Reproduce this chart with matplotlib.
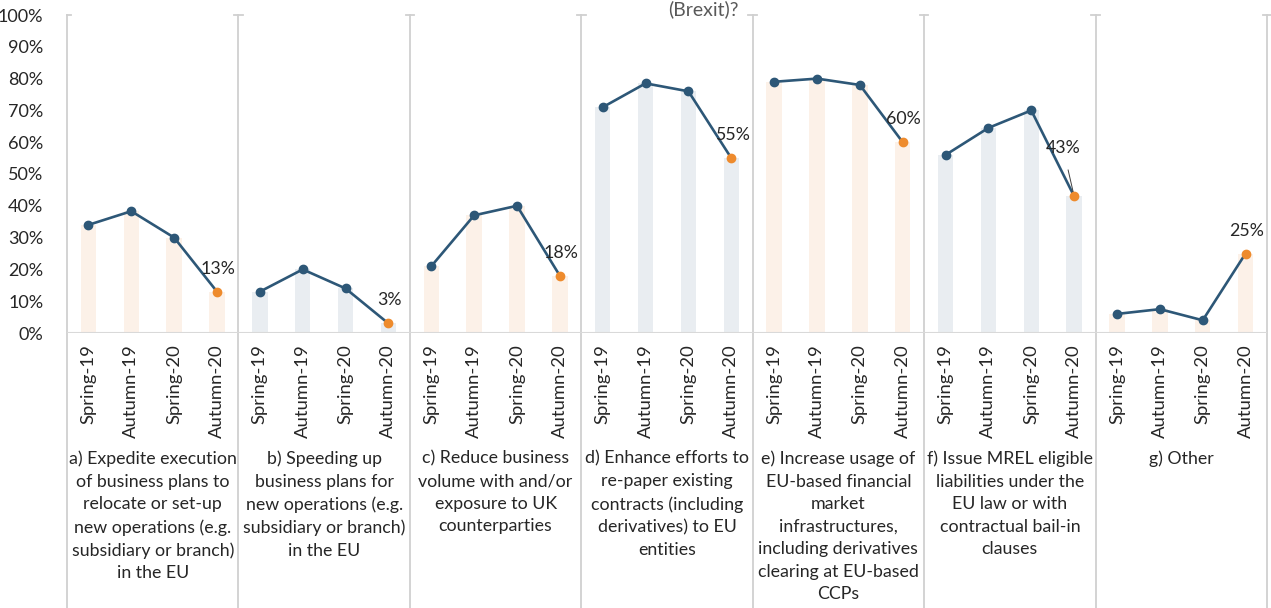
import matplotlib
matplotlib.use("Agg")
import matplotlib.pyplot as plt
import numpy as np

periods = ["Spring-19", "Autumn-19", "Spring-20", "Autumn-20"]
groups = [
    "a) Expedite execution\nof business plans to\nrelocate or set-up\nnew operations (e.g.\nsubsidiary or branch)\nin the EU",
    "b) Speeding up\nbusiness plans for\nnew operations (e.g.\nsubsidiary or branch)\nin the EU",
    "c) Reduce business\nvolume with and/or\nexposure to UK\ncounterparties",
    "d) Enhance efforts to\nre-paper existing\ncontracts (including\nderivatives) to EU\nentities",
    "e) Increase usage of\nEU-based financial\nmarket\ninfrastructures,\nincluding derivatives\nclearing at EU-based\nCCPs",
    "f) Issue MREL eligible\nliabilities under the\nEU law or with\ncontractual bail-in\nclauses",
    "g) Other",
]
vals_a = [34, 38.3, 30, 13]
vals_b = [13, 20, 14, 3]
vals_c = [21, 37, 40, 18]
vals_d = [71, 78.5, 76, 55]
vals_e = [79, 80, 78, 60]
vals_f = [56, 64.5, 70, 43]
vals_g = [6, 7.5, 4, 25]
all_vals = [vals_a, vals_b, vals_c, vals_d, vals_e, vals_f, vals_g]

W, H = 1271, 608
fig = plt.figure(figsize=(W / 100, H / 100), dpi=100)
plt.rcParams['font.family'] = ['Lato', 'DejaVu Sans']
left, right, top, bottom = 67, 1267, 15, 333
ax = fig.add_axes([left / W, (H - bottom) / H, (right - left) / W, (bottom - top) / H])

bar_cols = ["#FCF1E8", "#E9EDF1"]
line_col = "#2D5777"
orange = "#EE8B2D"
grid_col = "#D0D0D0"
text_col = "#262626"
fs = 12.8

n = len(periods)
for gi, vals in enumerate(all_vals):
    xs = np.arange(n) + gi * n
    ax.bar(xs, vals, width=0.36, color=bar_cols[gi % 2], zorder=1)
    ax.plot(xs, vals, color=line_col, lw=1.9, zorder=3)
    ax.plot(xs[:-1], vals[:-1], 'o', color=line_col, ms=6, zorder=4)
    ax.plot(xs[-1:], vals[-1:], 'o', color=orange, ms=6, zorder=4,
            markeredgecolor=orange)
    lab = f"{vals[-1]:.0f}%"
    if gi == 5:
        ax.annotate(lab, xy=(xs[-1], vals[-1]), xytext=(-11, 48),
                    textcoords="offset pixels", ha="center", va="center",
                    fontsize=fs, color=text_col,
                    arrowprops=dict(arrowstyle="-", color="#404040", lw=0.7,
                                    shrinkA=8, shrinkB=2))
    else:
        ax.annotate(lab, xy=(xs[-1], vals[-1]), xytext=(1, 23),
                    textcoords="offset pixels", ha="center", va="center",
                    fontsize=fs, color=text_col)
    # category labels
    for k, p in enumerate(periods):
        ax.text(xs[k], -0.035, p, transform=ax.get_xaxis_transform(),
                rotation=90, ha="center", va="top", fontsize=13.3, color=text_col)
    # group label
    ax.text(gi * n + 1.5, -0.37, groups[gi], transform=ax.get_xaxis_transform(),
            ha="center", va="top", fontsize=fs, color=text_col, linespacing=1.5)

ax.set_xlim(-0.5, n * len(all_vals) - 0.5)
ax.set_ylim(0, 100)
ax.set_yticks(np.arange(0, 101, 10))
ax.set_yticklabels([f"{v}%" for v in range(0, 101, 10)], fontsize=13, color=text_col)
ax.tick_params(axis="y", length=0, pad=17)
ax.set_xticks([])
for s in ax.spines.values():
    s.set_visible(False)
ax.axhline(0, color="#D9D9D9", lw=1.5, zorder=2)

ybot = -(H - bottom) / (bottom - top)
for gi in range(len(all_vals) + 1):
    x = gi * n - 0.5
    ax.plot([x, x], [1, ybot], transform=ax.get_xaxis_transform(), color=grid_col,
            lw=1.3, clip_on=False, zorder=0)
    ax.plot([x - (0.1 if gi > 0 else 0), x + 0.1], [1, 1], transform=ax.get_xaxis_transform(),
            color=grid_col, lw=1.3, clip_on=False)

fig.text(703 / W, 1 - 15 / H, "(Brexit)?", ha="center", va="baseline",
         fontsize=14, color="#595959")

fig.savefig("out.png", dpi=100)
